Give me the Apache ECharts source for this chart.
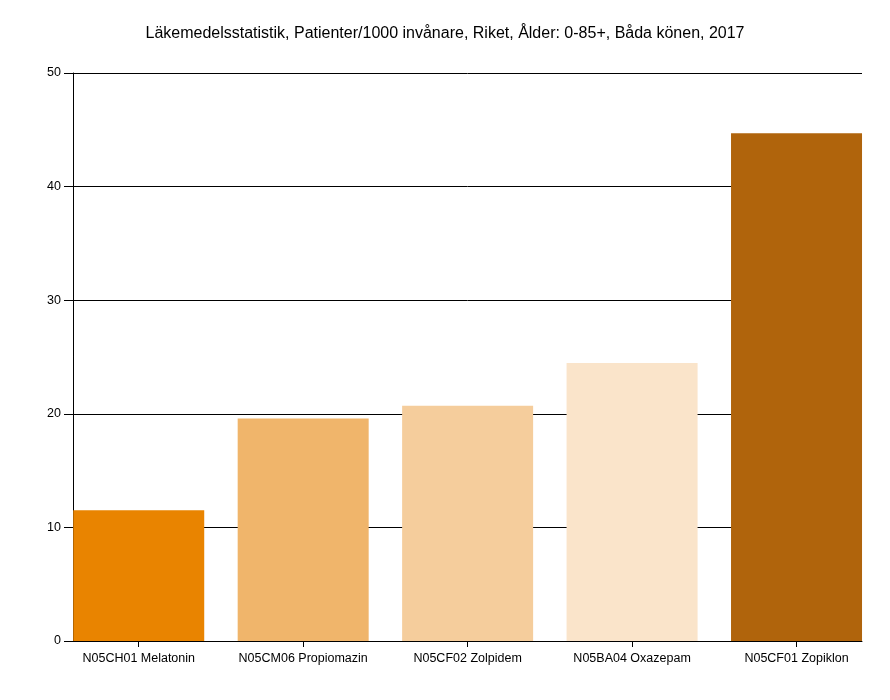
<!DOCTYPE html>
<html>
<head>
<meta charset="utf-8">
<script src="https://cdn.jsdelivr.net/npm/echarts@6/dist/echarts.min.js"></script>
<style>html,body{margin:0;padding:0;background:#fff}#c{width:890px;height:700px}</style>
</head>
<body>
<div id="c"></div>
<script>
const titleText = 'Läkemedelsstatistik, Patienter/1000 invånare, Riket, Ålder: 0-85+, Båda könen, 2017';
const categories = ['N05CH01 Melatonin', 'N05CM06 Propiomazin', 'N05CF02 Zolpidem', 'N05BA04 Oxazepam', 'N05CF01 Zopiklon'];
const values = [11.52, 19.59, 20.7, 24.47, 44.7];
const barColors = ['#E98400', '#F0B56B', '#F5CD9C', '#FAE4CA', '#B0640C'];
const yMin = 0, yMax = 50, yStep = 10;

const font = 'Liberation Sans, Arial, sans-serif';
const chart = echarts.init(document.getElementById('c'), null, {renderer: 'canvas'});
chart.setOption({
  animation: false,
  backgroundColor: '#fff',
  title: {
    text: titleText, left: 'center', top: 21,
    textStyle: {fontFamily: font, fontSize: 16, fontWeight: 'normal', color: '#000'}
  },
  grid: [
    {left: 56.5, right: 11.25, top: 73, bottom: 59},
    {left: 73, right: 28, top: 73, bottom: 59}
  ],
  xAxis: [
    {
      type: 'category', gridIndex: 0, data: categories,
      axisLine: {show: false},
      axisTick: {show: true, alignWithLabel: true, length: 6, lineStyle: {color: '#000'}},
      axisLabel: {fontFamily: font, fontSize: 12.5, color: '#000', margin: 11, interval: 0}
    },
    {
      type: 'value', gridIndex: 1, min: 0, max: 1,
      axisLine: {show: true, onZero: false, lineStyle: {color: '#000', width: 1}},
      axisTick: {show: false}, axisLabel: {show: false}, splitLine: {show: false}
    }
  ],
  yAxis: [
    {
      type: 'value', gridIndex: 0, min: yMin, max: yMax, interval: yStep,
      show: false, splitLine: {show: false}
    },
    {
      type: 'value', gridIndex: 1, min: yMin, max: yMax, interval: yStep,
      axisLine: {show: true, lineStyle: {color: '#000', width: 1}},
      axisTick: {show: true, length: 9, lineStyle: {color: '#000'}},
      axisLabel: {fontFamily: font, fontSize: 12.5, color: '#000', margin: 12},
      splitLine: {show: true, lineStyle: {color: '#000', width: 1}},
      z: 0
    }
  ],
  series: [{
    type: 'bar', xAxisIndex: 0, yAxisIndex: 0,
    data: values.map((v, i) => ({value: v, itemStyle: {color: barColors[i]}})),
    barWidth: 131, z: 5
  }]
});
</script>
</body>
</html>
